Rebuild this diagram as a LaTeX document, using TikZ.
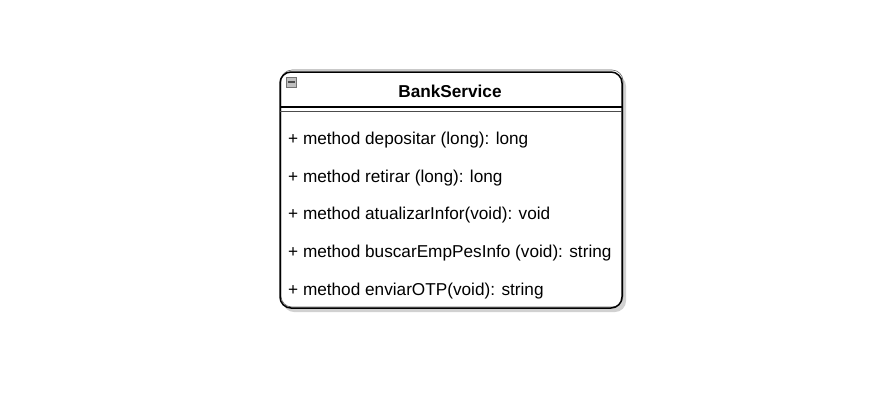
\documentclass[tikz,border=0pt]{standalone}
\usepackage{fontspec}
\setmainfont{Liberation Sans}
\begin{document}
\begin{tikzpicture}[x=1pt,y=-1pt,
  method/.style={anchor=west,inner sep=0pt,font=\fontsize{17.2}{19}\selectfont},
  title/.style={inner sep=0pt,font=\fontsize{17.2}{19}\selectfont\bfseries}]
\useasboundingbox (0,0) rectangle (869,413);
% shadow
\fill[black!18,rounded corners=11] (283,75) rectangle (626,312);
% body
\fill[white,rounded corners=11] (280,71) rectangle (622,308);
\draw[black!60,line width=0.6pt,rounded corners=11] (281,70) rectangle (623,307);
\draw[black,line width=1.5pt,rounded corners=11] (280,72) rectangle (622,308);
% header separator (double)
\draw[black,line width=1.2pt] (280,107) -- (622,107);
\draw[black!70,line width=1.6pt] (280,111.5) -- (622,111.5);
% collapse icon
\node[draw=black!55,fill=black!25,minimum size=10,inner sep=0pt,anchor=north west] (icon) at (286,77) {};
\draw[black!70,line width=1.1pt] (287.5,82) -- (294.5,82);
% texts
\node[title] (t) at (450,91) {BankService};
\node[method] (m1) at (288,140) {+ method depositar (long): long};
\node[method] (m2) at (288,178) {+ method retirar (long): long};
\node[method] (m3) at (288,215) {+ method atualizarInfor(void): void};
\node[method] (m4) at (288,253) {+ method buscarEmpPesInfo (void): string};
\node[method] (m5) at (288,291) {+ method enviarOTP(void): string};
\end{tikzpicture}
\end{document}
